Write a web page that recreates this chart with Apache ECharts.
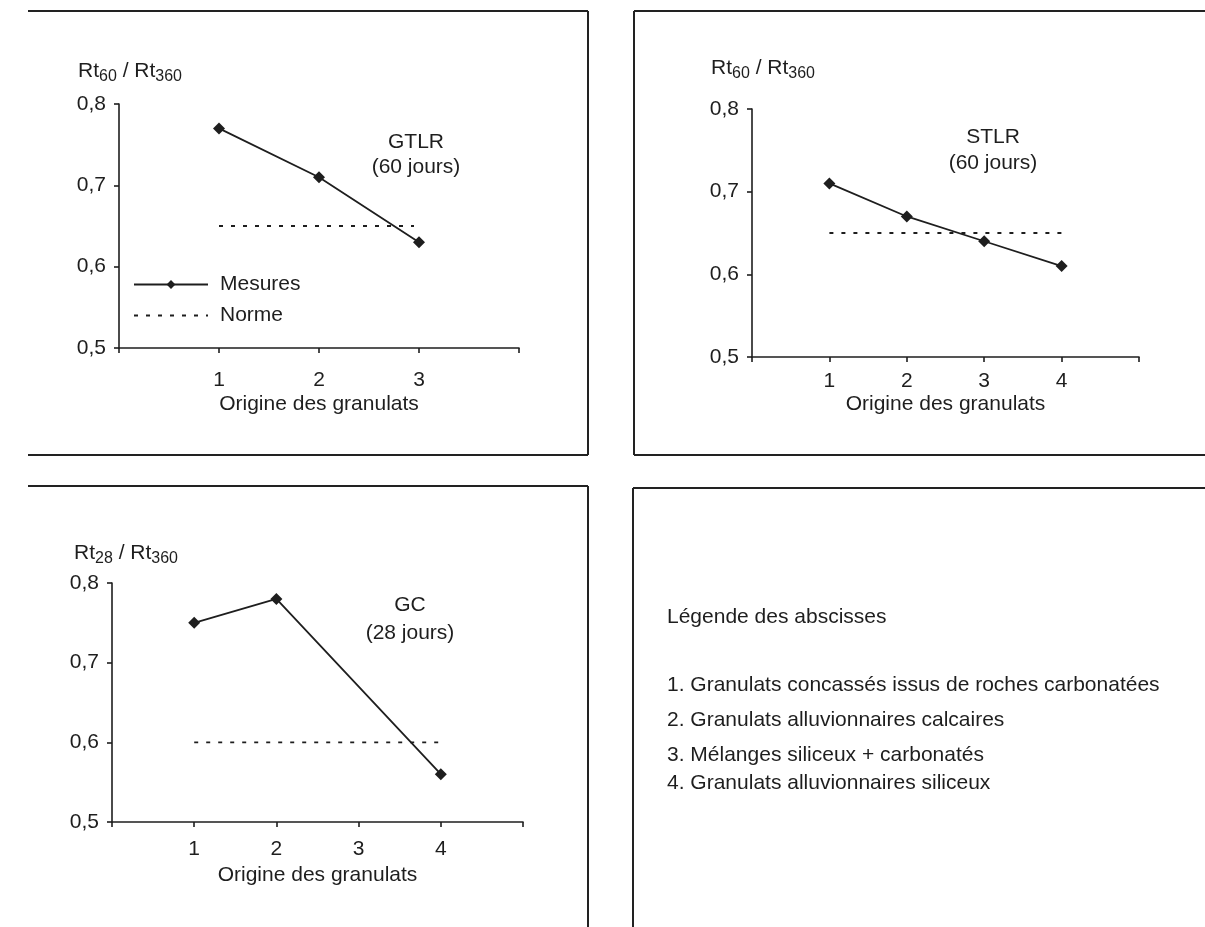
<!DOCTYPE html>
<html>
<head>
<meta charset="utf-8">
<script src="https://cdn.jsdelivr.net/npm/echarts@6/dist/echarts.min.js"></script>
<style>
html,body{margin:0;padding:0;background:#fff;}
#c{width:1205px;height:927px;}
</style>
</head>
<body>
<div id="c"></div>
<script>
// ---- Data ----
const yTickValues = [0.5, 0.6, 0.7, 0.8];
const xAxisTitle = 'Origine des granulats';

// Panel 1: GTLR (60 jours)
const gtlrX = [1, 2, 3];
const gtlrY = [0.77, 0.71, 0.63];
const gtlrNormX = [1, 2.95];
const gtlrNormY = [0.65, 0.65];

// Panel 2: STLR (60 jours)
const stlrX = [1, 2, 3, 4];
const stlrY = [0.71, 0.67, 0.64, 0.61];
const stlrNormX = [1, 4];
const stlrNormY = [0.65, 0.65];

// Panel 3: GC (28 jours)
const gcX = [1, 2, 4];
const gcY = [0.75, 0.78, 0.56];
const gcNormX = [1, 4];
const gcNormY = [0.60, 0.60];

const seriesNames = ['Mesures', 'Norme'];
const legendTitle = 'Légende des abscisses';
const legendLines = [
  '1. Granulats concassés issus de roches carbonatées',
  '2. Granulats alluvionnaires calcaires',
  '3. Mélanges siliceux + carbonatés',
  '4. Granulats alluvionnaires siliceux'
];

// ---- Styling ----
const FONT = '"Liberation Sans", Arial, Helvetica, sans-serif';
const INK = '#1e1e1e';
const FS = 21;

function pairs(xs, ys) { return xs.map((x, i) => [x, ys[i]]); }

function yAxisDef(gridIndex, sub, gap, padLeft) {
  return {
    type: 'value', gridIndex, min: 0.5, max: 0.8, interval: 0.1,
    name: '{a|Rt}{s|' + sub + '}{a| / Rt}{s|360}',
    nameLocation: 'end', nameGap: gap,
    nameTextStyle: {
      align: 'center', padding: [0, 0, 0, padLeft],
      rich: {
        a: { fontFamily: FONT, fontSize: FS, color: INK, lineHeight: 20, verticalAlign: 'top' },
        s: { fontFamily: FONT, fontSize: 16, color: INK, lineHeight: 32, verticalAlign: 'middle' }
      }
    },
    axisLine: { show: true, lineStyle: { color: INK, width: 1.6 } },
    axisTick: { show: true, length: 5, lineStyle: { color: INK, width: 1.6 } },
    axisLabel: {
      fontFamily: FONT, fontSize: FS, color: INK, margin: 13,
      padding: [0, 0, 8, 0],
      formatter: v => yTickValues.indexOf(Math.round(v * 10) / 10) >= 0 ? v.toFixed(1).replace('.', ',') : ''
    },
    splitLine: { show: false }
  };
}

function xAxisDef(gridIndex, max, labelled, margin, nameGap) {
  return {
    type: 'value', gridIndex, min: 0, max: max, interval: 1,
    name: xAxisTitle, nameLocation: 'middle', nameGap: nameGap,
    nameTextStyle: { fontFamily: FONT, fontSize: FS, color: INK },
    axisLine: { show: true, lineStyle: { color: INK, width: 1.6 } },
    axisTick: { show: true, length: 5, lineStyle: { color: INK, width: 1.6 } },
    axisLabel: {
      fontFamily: FONT, fontSize: FS, color: INK, margin: margin,
      formatter: v => labelled.indexOf(v) >= 0 ? String(v) : ''
    },
    splitLine: { show: false }
  };
}

function measureSeries(idx, xs, ys) {
  return {
    name: seriesNames[0], type: 'line', xAxisIndex: idx, yAxisIndex: idx,
    data: pairs(xs, ys), symbol: 'diamond', symbolSize: 12,
    lineStyle: { color: INK, width: 1.8 },
    itemStyle: { color: INK },
    emphasis: { disabled: true }, z: 3
  };
}
function normSeries(idx, xs, ys) {
  return {
    name: seriesNames[1], type: 'line', xAxisIndex: idx, yAxisIndex: idx,
    data: pairs(xs, ys), symbol: 'none',
    lineStyle: { color: INK, width: 1.8, type: [4, 8] },
    itemStyle: { color: INK },
    emphasis: { disabled: true }, z: 2
  };
}

function txt(x, y, text) {
  return {
    type: 'text', x: x, y: y,
    style: { text: text, font: FS + 'px ' + FONT, fill: INK, textAlign: 'center', textVerticalAlign: 'middle' }
  };
}
function line(x1, y1, x2, y2) {
  return { type: 'line', shape: { x1, y1, x2, y2 }, style: { stroke: '#222', lineWidth: 2 } };
}

const chart = echarts.init(document.getElementById('c'), null, { renderer: 'canvas' });

const graphics = [
  // Panel borders
  line(28, 11, 588, 11), line(588, 11, 588, 455), line(28, 455, 588, 455),
  line(634, 11, 1205, 11), line(634, 11, 634, 455), line(634, 455, 1205, 455),
  line(28, 486, 588, 486), line(588, 486, 588, 927),
  line(633, 488, 1205, 488), line(633, 488, 633, 927),
  // annotations
  txt(416, 142, 'GTLR'), txt(416, 167, '(60 jours)'),
  txt(993, 137, 'STLR'), txt(993, 163, '(60 jours)'),
  txt(410, 605, 'GC'), txt(410, 633, '(28 jours)'),
  // panel 4 legend of abscissae
  { type: 'text', x: 667, y: 617, style: { text: legendTitle, font: FS + 'px ' + FONT, fill: INK, textAlign: 'left', textVerticalAlign: 'middle' } }
].concat(legendLines.map((t, i) => ({
  type: 'text', x: 667, y: [685, 720, 755, 783][i],
  style: { text: t, font: FS + 'px ' + FONT, fill: INK, textAlign: 'left', textVerticalAlign: 'middle' }
})));

chart.setOption({
  animation: false,
  backgroundColor: '#fff',
  textStyle: { fontFamily: FONT },
  grid: [
    { left: 119, top: 104, width: 400, height: 244 },
    { left: 752, top: 109, width: 387, height: 248 },
    { left: 112, top: 583, width: 411, height: 239 }
  ],
  xAxis: [
    xAxisDef(0, 4, [1, 2, 3], 22, 46),
    xAxisDef(1, 5, [1, 2, 3, 4], 14, 37),
    xAxisDef(2, 5, [1, 2, 3, 4], 17, 43)
  ],
  yAxis: [
    yAxisDef(0, '60', 11, 22),
    yAxisDef(1, '60', 19, 22),
    yAxisDef(2, '28', 8, 28)
  ],
  legend: {
    show: true, orient: 'vertical',
    data: [
      { name: seriesNames[0] },
      { name: seriesNames[1], itemStyle: { color: 'rgba(0,0,0,0)', borderColor: 'rgba(0,0,0,0)', borderWidth: 0, opacity: 0 } }
    ],
    left: 133, top: 274, padding: 0, itemWidth: 74, itemHeight: 11, itemGap: 10,
    selectedMode: false,
    textStyle: { fontFamily: FONT, fontSize: FS, color: INK, padding: [0, 0, 0, 7] }
  },
  series: [
    measureSeries(0, gtlrX, gtlrY), normSeries(0, gtlrNormX, gtlrNormY),
    measureSeries(1, stlrX, stlrY), normSeries(1, stlrNormX, stlrNormY),
    measureSeries(2, gcX, gcY), normSeries(2, gcNormX, gcNormY)
  ],
  graphic: graphics
});
</script>
</body>
</html>
